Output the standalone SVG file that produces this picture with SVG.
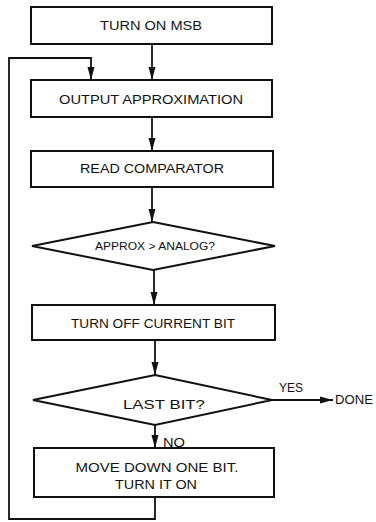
<svg xmlns="http://www.w3.org/2000/svg" width="376" height="522" viewBox="0 0 376 522">
<style>
.box{fill:#fff;stroke:#111;stroke-width:2}
.ln{fill:none;stroke:#111;stroke-width:1.8}
.t{font-family:"Liberation Sans",Arial,sans-serif;font-size:12.5px;fill:#111;text-anchor:middle}
.s{font-size:10px}
</style>
<defs>
<marker id="ah" markerUnits="userSpaceOnUse" markerWidth="14" markerHeight="8" refX="13" refY="4" orient="auto">
<path d="M0,0.5 L13,4 L0,7.5 Z" fill="#111"/>
</marker>
</defs>
<rect width="376" height="522" fill="#fff"/>
<g id="connectors">
<line class="ln" x1="152" y1="44" x2="152" y2="80" marker-end="url(#ah)"/>
<path class="ln" d="M155,497 V519 H9 V58 H91 V80" marker-end="url(#ah)"/>
<line class="ln" x1="152" y1="117" x2="152" y2="151" marker-end="url(#ah)"/>
<line class="ln" x1="152" y1="187" x2="152" y2="222" marker-end="url(#ah)"/>
<line class="ln" x1="154" y1="270" x2="154" y2="305" marker-end="url(#ah)"/>
<line class="ln" x1="155" y1="340" x2="155" y2="375" marker-end="url(#ah)"/>
<line class="ln" x1="155" y1="425" x2="155" y2="448" marker-end="url(#ah)"/>
<text class="t" x="174" y="447" textLength="22" lengthAdjust="spacingAndGlyphs">NO</text>
<line class="ln" x1="272" y1="400" x2="333" y2="400" marker-end="url(#ah)"/>
<text class="t" x="291" y="392" textLength="24" lengthAdjust="spacingAndGlyphs">YES</text>
<text class="t" x="354" y="404" textLength="38" lengthAdjust="spacingAndGlyphs">DONE</text>
</g>
<g id="n1">
<rect class="box" x="31" y="7" width="241" height="37"/>
<text class="t" x="151" y="30" textLength="102" lengthAdjust="spacingAndGlyphs">TURN ON MSB</text>
</g>
<g id="n2">
<rect class="box" x="31" y="80" width="241" height="37"/>
<text class="t" x="151" y="104" textLength="184" lengthAdjust="spacingAndGlyphs">OUTPUT APPROXIMATION</text>
</g>
<g id="n3">
<rect class="box" x="31" y="151" width="242" height="36"/>
<text class="t" x="152" y="173" textLength="144" lengthAdjust="spacingAndGlyphs">READ COMPARATOR</text>
</g>
<g id="n4">
<polygon class="box" points="153,222 275,246 153,270 32,246"/>
<text class="t s" x="155" y="250" textLength="120" lengthAdjust="spacingAndGlyphs">APPROX &gt; ANALOG?</text>
</g>
<g id="n5">
<rect class="box" x="32" y="305" width="243" height="35"/>
<text class="t" x="153" y="328" textLength="164" lengthAdjust="spacingAndGlyphs">TURN OFF CURRENT BIT</text>
</g>
<g id="n6">
<polygon class="box" points="155,375 272,400 155,425 33,400"/>
<text class="t" x="164" y="409" textLength="82" lengthAdjust="spacingAndGlyphs">LAST BIT?</text>
</g>
<g id="n7">
<rect class="box" x="34" y="448" width="240" height="49"/>
<text class="t" x="157" y="472" textLength="163" lengthAdjust="spacingAndGlyphs">MOVE DOWN ONE BIT.</text>
<text class="t" x="156" y="489" textLength="82" lengthAdjust="spacingAndGlyphs">TURN IT ON</text>
</g>
</svg>
